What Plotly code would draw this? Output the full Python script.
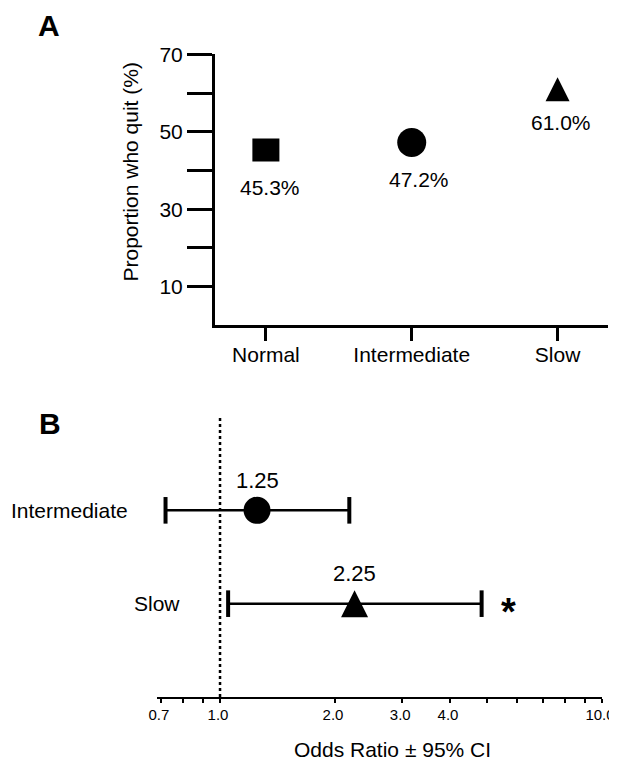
import math
import plotly.graph_objects as go

FONT = "Liberation Sans, Arial, Helvetica, sans-serif"

# ---------------- data: panel A ----------------
groups_a = ["Normal", "Intermediate", "Slow"]
quit_pct = [45.3, 47.2, 61.0]
y_ticks_a = [10, 20, 30, 40, 50, 60, 70]
y_ticklabels_a = ["10", "", "30", "", "50", "", "70"]

# ---------------- data: panel B ----------------
groups_b = ["Intermediate", "Slow"]
odds_ratio = [1.25, 2.25]
ci_low = [0.72, 1.05]
ci_high = [2.18, 4.84]
significant = [False, True]
x_ticks_b = [0.7, 0.8, 0.9, 1.0, 2.0, 3.0, 4.0, 5.0, 6.0, 7.0, 8.0, 9.0, 10.0]
x_ticklabels_b = ["0.7", "", "", "1.0", "2.0", "3.0", "4.0", "", "", "", "", "", "10.0"]
ref_or = 1.0

# page body has an 8px margin; size the figure so it fits the 617x760 window
PAGE_W, PAGE_H, OFF = 617, 760, 8
W, H = PAGE_W - OFF, PAGE_H - OFF


def px_x(p):
    return (p - OFF) / W


def px_y(p):
    return 1 - (p - OFF) / H


def marker_for(group, panel):
    if group == "Normal":
        # 27 x 23 filled rectangle
        return dict(symbol="line-ew", size=19.3, color="black",
                    line=dict(width=23, color="black"))
    if group == "Intermediate":
        return dict(symbol="circle", size=29 if panel == "A" else 27, color="black",
                    line=dict(width=0))
    s = 24 if panel == "A" else 27
    return dict(symbol="arrow-down", angle=180, standoff=s / 2, size=s, color="black",
                line=dict(width=0))


fig = go.Figure()

# Panel A markers
for g, v in zip(groups_a, quit_pct):
    fig.add_trace(go.Scatter(x=[g], y=[v], mode="markers", marker=marker_for(g, "A"),
                             xaxis="x", yaxis="y", showlegend=False, hoverinfo="skip"))

# Panel B forest plot
rows_b = [len(groups_b) - 1 - i for i in range(len(groups_b))]
for g, r, o, lo, hi in zip(groups_b, rows_b, odds_ratio, ci_low, ci_high):
    fig.add_trace(go.Scatter(x=[lo, hi], y=[r, r], mode="lines",
                             line=dict(color="black", width=2.5),
                             xaxis="x2", yaxis="y2", showlegend=False, hoverinfo="skip"))
    fig.add_trace(go.Scatter(x=[lo, hi], y=[r, r], mode="markers",
                             marker=dict(symbol="line-ns", size=19, color="black",
                                         line=dict(width=4, color="black")),
                             xaxis="x2", yaxis="y2", showlegend=False, hoverinfo="skip"))
    fig.add_trace(go.Scatter(x=[o], y=[r], mode="markers", marker=marker_for(g, "B"),
                             xaxis="x2", yaxis="y2", showlegend=False, hoverinfo="skip"))


def ann(**kw):
    base = dict(showarrow=False, xanchor="center", yanchor="middle")
    base.update(kw)
    return base


annotations = []
# value labels panel A
shifts_a = {"Normal": (4, -38), "Intermediate": (7, -37), "Slow": (3, -33)}
for g, v in zip(groups_a, quit_pct):
    dx, dy = shifts_a[g]
    annotations.append(ann(x=g, y=v, xref="x", yref="y", text=f"{v:.1f}%",
                           xshift=dx, yshift=dy,
                           font=dict(size=21, color="black", family=FONT)))
# y title panel A
annotations.append(ann(x=px_x(130), y=px_y(172.5), xref="paper", yref="paper",
                       text="Proportion who quit (%)", textangle=-90,
                       font=dict(size=21, color="black", family=FONT)))
# panel letters
annotations.append(ann(x=px_x(48.7), y=px_y(25), xref="paper", yref="paper", text="<b>A</b>",
                       font=dict(size=30, color="black", family=FONT)))
annotations.append(ann(x=px_x(49.5), y=px_y(423.5), xref="paper", yref="paper", text="<b>B</b>",
                       font=dict(size=30, color="black", family=FONT)))
# panel B row labels
label_right_b = {"Intermediate": 130, "Slow": 182}
for g, r in zip(groups_b, rows_b):
    annotations.append(ann(x=px_x(label_right_b[g]), y=r, xref="paper", yref="y2", text=g,
                           xanchor="right",
                           font=dict(size=21, color="black", family=FONT)))
# OR value labels
for g, r, o in zip(groups_b, rows_b, odds_ratio):
    annotations.append(ann(x=math.log10(o), y=r, xref="x2", yref="y2", text=f"{o:.2f}",
                           yshift=30,
                           font=dict(size=22, color="black", family=FONT)))
# significance marker
for r, hi, sig in zip(rows_b, ci_high, significant):
    if sig:
        annotations.append(ann(x=px_x(508), y=r, xref="paper", yref="y2", text="<b>*</b>",
                               yshift=-8,
                               font=dict(size=38, color="black", family=FONT)))
# x title panel B
annotations.append(ann(x=px_x(392.2), y=px_y(749), xref="paper", yref="paper",
                       text="Odds Ratio ± 95% CI",
                       font=dict(size=21, color="black", family=FONT)))

fig.update_layout(
    template="none",
    width=W, height=H,
    margin=dict(l=0, r=0, t=0, b=0, pad=0, autoexpand=False),
    paper_bgcolor="white", plot_bgcolor="white",
    font=dict(family=FONT, color="black"),
    showlegend=False,
    annotations=annotations,
    xaxis=dict(domain=[px_x(215), px_x(608)], anchor="y", type="category",
               categoryorder="array", categoryarray=groups_a, automargin=False,
               range=[-0.349, 2.346], showline=True, linewidth=3, linecolor="black",
               ticks="outside", ticklen=13, tickwidth=3, tickcolor="black",
               showgrid=False, zeroline=False, ticklabelstandoff=-5,
               tickfont=dict(size=21, color="black", family=FONT)),
    yaxis=dict(domain=[px_y(325.4), px_y(54.3)], anchor="x", range=[0, 70],
               tickvals=y_ticks_a, ticktext=y_ticklabels_a, automargin=False,
               showline=True, linewidth=3, linecolor="black",
               ticks="outside", ticklen=25, tickwidth=3, tickcolor="black",
               showgrid=False, zeroline=False,
               tickfont=dict(size=21, color="black", family=FONT)),
    xaxis2=dict(domain=[px_x(157), px_x(602)], anchor="y2", type="log", automargin=False,
                range=[-0.165, 1.0], tickvals=x_ticks_b, ticktext=x_ticklabels_b,
                showline=True, linewidth=2, linecolor="black",
                ticks="outside", ticklen=4, tickwidth=2, tickcolor="black",
                showgrid=False, zeroline=False, ticklabeloverflow="allow",
                ticklabelstandoff=-1, ticklabelshift=-2,
                tickfont=dict(size=15, color="black", family=FONT)),
    yaxis2=dict(domain=[px_y(697), px_y(417)], anchor="x2", range=[-1, 2], automargin=False,
                showline=False, showticklabels=False, ticks="",
                showgrid=False, zeroline=False),
    shapes=[dict(type="line", xref="x2", yref="y2 domain", x0=ref_or, x1=ref_or,
                 y0=0, y1=1, line=dict(color="black", width=2.5, dash="dot"))],
)

fig.write_html("out.html")
